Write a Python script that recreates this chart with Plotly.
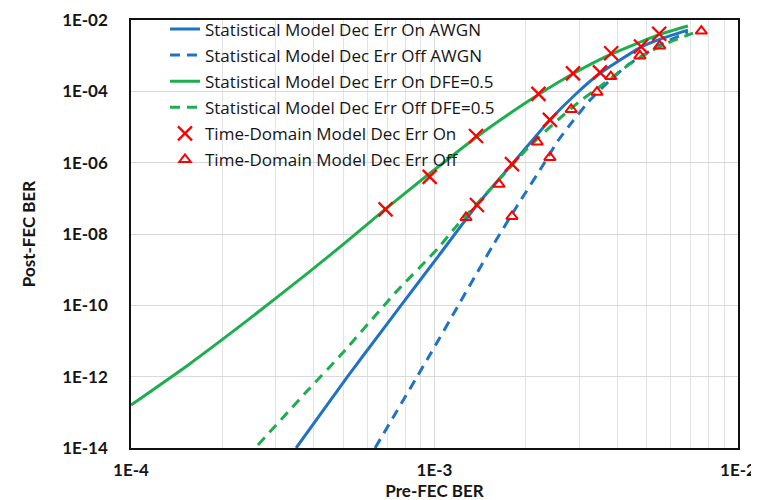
import plotly.graph_objects as go

# ---- data ----
awgn_on_x = [3.50e-4, 5.19e-4, 5.81e-4, 7.87e-4, 1.03e-3, 1.38e-3, 1.79e-3, 2.40e-3, 2.90e-3, 3.51e-3, 4.79e-3, 5.66e-3, 6.84e-3]
awgn_on_y = [1.0e-14, 1.05e-12, 3.8e-12, 1.17e-10, 2.4e-9, 6.5e-8, 8.6e-7, 1.58e-5, 7.9e-5, 3.2e-4, 1.74e-3, 3.1e-3, 5.2e-3]

awgn_off_x = [6.37e-4, 9.66e-4, 1.19e-3, 1.56e-3, 1.88e-3, 2.28e-3, 2.55e-3, 2.86e-3, 3.21e-3, 3.67e-3, 4.34e-3, 5.53e-3, 6.84e-3]
awgn_off_y = [1.0e-14, 4.1e-12, 9.0e-11, 4.9e-9, 6.5e-8, 8.6e-7, 4.1e-6, 1.48e-5, 5.0e-5, 1.6e-4, 5.5e-4, 2.0e-3, 4.6e-3]

dfe_on_x = [1.00e-4, 1.54e-4, 2.43e-4, 3.83e-4, 5.19e-4, 6.87e-4, 9.59e-4, 1.37e-3, 1.75e-3, 2.19e-3, 2.86e-3, 3.82e-3, 5.50e-3, 6.84e-3]
dfe_on_y = [1.6e-13, 2.1e-12, 3.9e-11, 8.1e-10, 6.6e-9, 4.9e-8, 4.8e-7, 5.1e-6, 2.24e-5, 7.9e-5, 3.1e-4, 1.10e-3, 3.9e-3, 6.8e-3]

dfe_off_x = [2.62e-4, 3.83e-4, 4.92e-4, 7.41e-4, 1.03e-3, 1.19e-3, 1.62e-3, 2.03e-3, 2.55e-3, 3.02e-3, 3.46e-3, 3.97e-3, 4.41e-3, 5.16e-3, 5.88e-3, 7.11e-3]
dfe_off_y = [1.22e-14, 4.2e-13, 4.1e-12, 2.2e-10, 4.1e-9, 1.8e-8, 3.1e-7, 2.6e-6, 1.58e-5, 5.4e-5, 1.24e-4, 3.0e-4, 5.9e-4, 1.35e-3, 2.3e-3, 4.3e-3]

td_on_x = [6.9e-4, 9.64e-4, 1.37e-3, 2.20e-3, 2.86e-3, 3.82e-3, 5.50e-3, 1.38e-3, 1.80e-3, 2.40e-3, 3.51e-3, 4.79e-3]
td_on_y = [4.9e-8, 4.0e-7, 5.6e-6, 8.5e-5, 3.2e-4, 1.17e-3, 4.1e-3, 6.5e-8, 9.1e-7, 1.58e-5, 3.4e-4, 1.81e-3]

td_off_x = [1.27e-3, 1.63e-3, 1.80e-3, 2.18e-3, 2.40e-3, 2.82e-3, 3.43e-3, 3.81e-3, 4.75e-3, 5.52e-3, 7.57e-3]
td_off_y = [2.9e-8, 2.5e-7, 3.1e-8, 3.8e-6, 1.4e-6, 3.1e-5, 9.5e-5, 2.6e-4, 9.8e-4, 1.87e-3, 4.9e-3]

series_names = [
    "Statistical Model Dec Err On AWGN",
    "Statistical Model Dec Err Off AWGN",
    "Statistical Model Dec Err On DFE=0.5",
    "Statistical Model Dec Err Off DFE=0.5",
    "Time-Domain Model Dec Err On",
    "Time-Domain Model Dec Err Off",
]

x_tick_vals = [1e-4, 1e-3, 1e-2]
x_tick_text = ["1E-4", "1E-3", "1E-2"]
y_tick_vals = [1e-14, 1e-12, 1e-10, 1e-8, 1e-6, 1e-4, 1e-2]
y_tick_text = ["1E-14", "1E-12", "1E-10", "1E-08", "1E-06", "1E-04", "1E-02"]

# ---- style ----
BLUE = "#1F72C4"
GREEN = "#1DAE4E"
RED = "#FF0000"
FONT = "Lato"
LEG_FONT = "Open Sans"
TXT = "#151515"

fig = go.Figure()

line_specs = [
    (awgn_on_x, awgn_on_y, BLUE, "solid"),
    (awgn_off_x, awgn_off_y, BLUE, "10px,7px"),
    (dfe_on_x, dfe_on_y, GREEN, "solid"),
    (dfe_off_x, dfe_off_y, GREEN, "10px,7px"),
]
for i, (xs, ys, col, dash) in enumerate(line_specs):
    fig.add_trace(go.Scatter(
        x=xs, y=ys, mode="lines", name=series_names[i],
        legendgroup=f"g{i}",
        line=dict(color=col, width=3, dash=dash, shape="spline", smoothing=0.5),
    ))

fig.add_trace(go.Scatter(
    x=td_on_x, y=td_on_y, mode="markers", name=series_names[4], legendgroup="g4",
    marker=dict(symbol="x-thin", size=14, color=RED, line=dict(color=RED, width=2.3)),
))
fig.add_trace(go.Scatter(
    x=td_off_x, y=td_off_y, mode="markers", name=series_names[5], legendgroup="g5",
    marker=dict(symbol="triangle-up-open", size=10, color=RED, line=dict(color=RED, width=2)),
))

minor_x = [k * 10.0 ** e for e in (-4, -3) for k in range(2, 10)]

fig.update_xaxes(
    type="log", range=[-4, -2],
    tickvals=x_tick_vals, ticktext=x_tick_text, ticks="",
    showgrid=True, gridcolor="#d9d9d9", gridwidth=1,
    minor=dict(tickvals=minor_x, showgrid=True, gridcolor="#e3e3e3", gridwidth=1, ticks=""),
    showline=True, linecolor="#111111", linewidth=1.5, mirror=True,
    tickfont=dict(family=FONT, size=17, color=TXT, weight="bold"),
    ticklabelstandoff=6,
    title=dict(text="Pre-FEC BER", font=dict(family=FONT, size=17, color=TXT, weight="bold"), standoff=2),
    zeroline=False,
)
fig.update_yaxes(
    type="log", range=[-14, -2],
    tickvals=y_tick_vals, ticktext=y_tick_text, ticks="",
    showgrid=True, gridcolor="#d9d9d9", gridwidth=1,
    showline=True, linecolor="#111111", linewidth=1.5, mirror=True,
    tickfont=dict(family=FONT, size=17, color=TXT, weight="bold"),
    ticklabelstandoff=18,
    title=dict(text="Post-FEC BER", font=dict(family=FONT, size=17, color=TXT, weight="bold"), standoff=22),
    zeroline=False,
)

fig.update_layout(
    width=759, height=500,
    margin=dict(l=123, r=29, t=12, b=60, autoexpand=False),
    paper_bgcolor="white", plot_bgcolor="white",
    showlegend=True,
    legend=dict(
        x=0.056, y=1.02, xanchor="left", yanchor="top",
        bgcolor="rgba(0,0,0,0)", borderwidth=0,
        font=dict(family=LEG_FONT, size=17, color=TXT),
        traceorder="grouped", tracegroupgap=1,
    ),
    font=dict(family=FONT, color=TXT),
)

fig.write_html("out.html")
